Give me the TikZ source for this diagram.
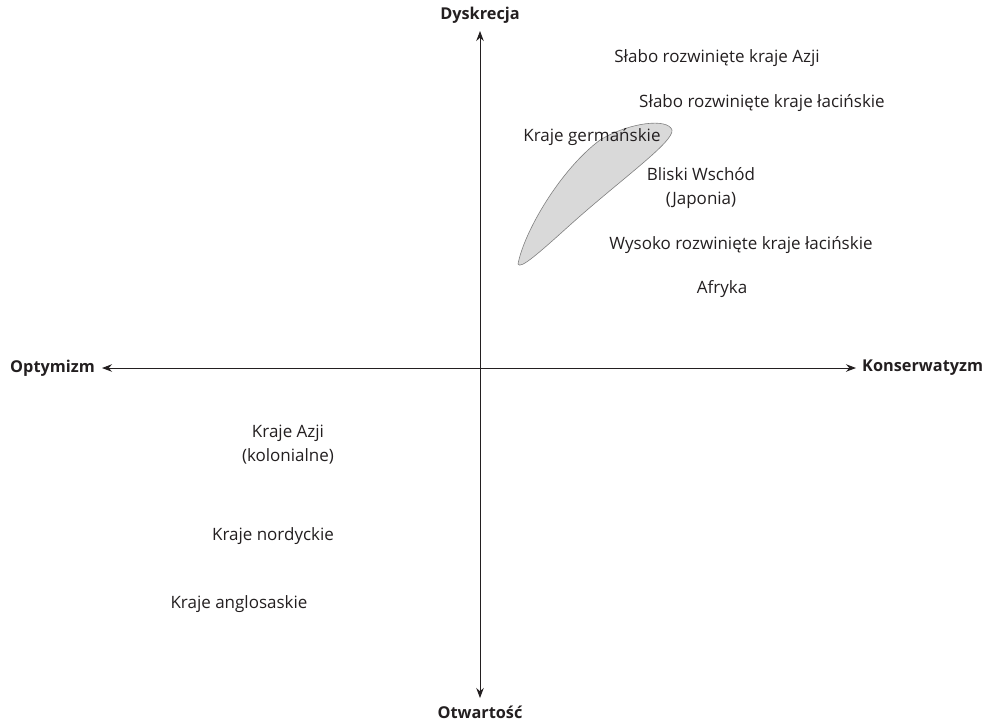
\documentclass[tikz,border=0pt]{standalone}
\usepackage{fontspec}
\setmainfont{Open Sans}
\usetikzlibrary{arrows.meta}
\definecolor{ink}{HTML}{231F20}
\begin{document}
\begin{tikzpicture}[x=1pt,y=-1pt,
  lbl/.style={text=ink,font=\fontsize{17}{24}\selectfont,inner sep=0pt,align=center},
  axlbl/.style={text=ink,font=\fontsize{16.3}{18}\selectfont\bfseries,inner sep=0pt},
  axis/.style={draw=ink,line width=0.9pt,-{Stealth[length=10pt,width=7.5pt]}},
  blob/.style={fill=black!15,draw=black!50,line width=0.6pt}]
\useasboundingbox (0,0) rectangle (992,724);
% blob
\path[blob] (518,264) .. controls (524,232) and (560,170) .. (600,140)
  .. controls (630,122) and (668,118) .. (672,130)
  .. controls (674,142) and (620,180) .. (570,225)
  .. controls (540,252) and (520,270) .. (518,264) -- cycle;
% axes
\coordinate (c) at (480,368);
\coordinate (top) at (480,31);
\coordinate (bot) at (480,698);
\coordinate (lft) at (102,368);
\coordinate (rgt) at (856,368);
\draw[axis] (c) -- (top);
\draw[axis] (c) -- (bot);
\draw[axis] (c) -- (lft);
\draw[axis] (c) -- (rgt);
% axis labels
\node[axlbl] (dys) at (480,15) {Dyskrecja};
\node[axlbl] (otw) at (480,712) {Otwartość};
\node[axlbl,anchor=east] (opt) at (95,368) {Optymizm};
\node[axlbl,anchor=west] (kon) at (862,368) {Konserwatyzm};
% labels
\node[lbl] (n1) at (717,58) {Słabo rozwinięte kraje Azji};
\node[lbl] (n2) at (762,103) {Słabo rozwinięte kraje łacińskie};
\node[lbl] (n3) at (592,137) {Kraje germańskie};
\node[lbl] (n4) at (701,188) {Bliski Wschód\\(Japonia)};
\node[lbl] (n5) at (741,245) {Wysoko rozwinięte kraje łacińskie};
\node[lbl] (n6) at (722,289) {Afryka};
\node[lbl] (n7) at (288,445) {Kraje Azji\\(kolonialne)};
\node[lbl] (n8) at (273,536) {Kraje nordyckie};
\node[lbl] (n9) at (239,604) {Kraje anglosaskie};
\end{tikzpicture}
\end{document}
